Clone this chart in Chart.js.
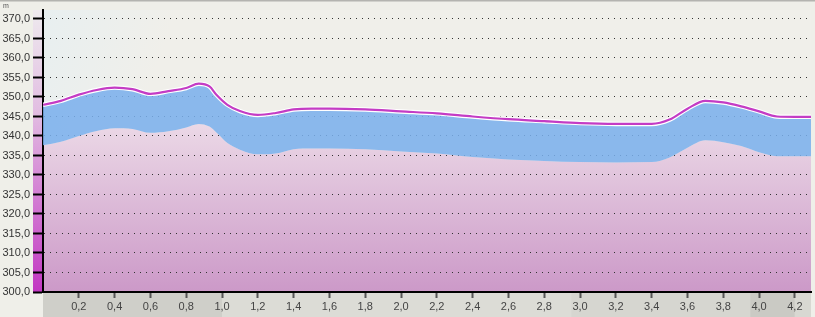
<!DOCTYPE html>
<html>
<head>
<meta charset="utf-8">
<script src="https://cdn.jsdelivr.net/npm/chart.js@4.4.1/dist/chart.umd.min.js"></script>
<style>
  html, body { margin: 0; padding: 0; background: #efefe9; }
  #wrap { width: 815px; height: 317px; position: relative; }
</style>
</head>
<body>
<div id="wrap"><canvas id="profile"></canvas></div>
<script>
// Distance along the route (km)
const distances = [0, 0.1, 0.2, 0.3, 0.4, 0.5, 0.6, 0.7, 0.8, 0.87, 0.93, 0.97, 1.03, 1.1, 1.2, 1.3, 1.4, 1.5, 1.6, 1.8, 2.0,
    2.2, 2.4, 2.6, 2.8, 3.0, 3.2, 3.4, 3.5, 3.6, 3.7, 3.8, 3.9, 4.0, 4.1, 4.2, 4.29];
// Upper surface (m)
const upperLevel = [348.0, 349.0, 350.6, 351.8, 352.4, 352.0, 350.8, 351.5, 352.3, 353.4, 352.7, 350.5, 348.0, 346.4, 345.4, 345.9, 346.8, 347.0, 347.0, 346.8, 346.3,
    345.8, 345.0, 344.3, 343.8, 343.3, 343.1, 343.1, 344.2, 347.0, 349.0, 348.6, 347.6, 346.3, 345.0, 344.9, 344.9];
// Lower surface (m)
const lowerLevel = [337.6, 338.5, 340.0, 341.3, 342.0, 341.8, 340.8, 341.2, 342.2, 343.1, 342.4, 340.8, 338.2, 336.5, 335.3, 335.5, 336.6, 336.8, 336.8, 336.6, 336.0,
    335.5, 334.6, 334.0, 333.6, 333.3, 333.2, 333.3, 334.5, 337.0, 338.9, 338.4, 337.4, 335.8, 334.8, 334.8, 334.8];

const Y_MIN = 300;
const Y_MAX = 372.3;
const X_MAX = 4.29;

const toPoints = arr => arr.map((v, i) => ({ x: distances[i], y: v }));
const fmt = v => v.toFixed(1).replace('.', ',');

// Backgrounds, and the ground area under the lower line (below the grid dots)
const backdrop = {
    id: 'backdrop',
    beforeDraw(chart) {
        const { ctx, chartArea: a } = chart;
        ctx.save();
        ctx.fillStyle = '#efefe9';
        ctx.fillRect(0, 0, chart.width, chart.height);
        ctx.fillStyle = '#b4b4b0';
        ctx.fillRect(0, 0, chart.width, 1.5);

        const bg = ctx.createLinearGradient(a.left, a.top, a.left + 120, a.top + 40);
        bg.addColorStop(0, '#e8eff0');
        bg.addColorStop(1, '#f0efea');
        ctx.fillStyle = bg;
        ctx.fillRect(a.left, a.top, a.right - a.left, a.bottom - a.top);

        // ground fill under the lower line
        const line = chart.getDatasetMeta(0).dataset;
        if (line && line.points && line.points.length) {
            line.updateControlPoints(a);
            ctx.beginPath();
            line.path(ctx);
            ctx.lineTo(a.right, a.bottom);
            ctx.lineTo(a.left, a.bottom);
            ctx.closePath();
            const g = ctx.createLinearGradient(0, chart.scales.y.getPixelForValue(343), 0, a.bottom);
            g.addColorStop(0, '#ebd8e6');
            g.addColorStop(1, '#cc99c8');
            ctx.fillStyle = g;
            ctx.fill();
        }

        // colour strip behind the y axis
        const strip = ctx.createLinearGradient(0, a.top, 0, a.bottom);
        strip.addColorStop(0, '#eeeaee');
        strip.addColorStop(0.35, '#e2bfe2');
        strip.addColorStop(1, '#c238c2');
        ctx.fillStyle = strip;
        ctx.fillRect(a.left - 10, a.top, 10, a.bottom - a.top);

        // x axis band
        const x = chart.scales.x;
        const bands = [[0, 1.0, '#cfcfc9'], [1.0, 2.95, '#dcdcd6'], [2.95, 3.95, '#d6d6d0'], [3.95, 4.2, '#cacac4'], [4.2, X_MAX, '#d8d8d2']];
        bands.forEach(([s, e, c]) => {
            ctx.fillStyle = c;
            ctx.fillRect(x.getPixelForValue(s), a.bottom, x.getPixelForValue(e) - x.getPixelForValue(s), chart.height - a.bottom);
        });

        ctx.fillStyle = '#555';
        ctx.font = '7px "Liberation Sans", Arial, sans-serif';
        ctx.fillText('m', 3, 8);
        ctx.restore();
    }
};

const ctx = document.getElementById('profile').getContext('2d');

const lineOpts = { pointRadius: 0, cubicInterpolationMode: 'monotone' };

new Chart(ctx, {
    type: 'line',
    data: {
        datasets: [{
            ...lineOpts,
            data: toPoints(lowerLevel),
            borderWidth: 0,
            borderColor: 'rgba(0,0,0,0)',
            order: 3,
            fill: false
        }, {
            ...lineOpts,
            data: toPoints(upperLevel),
            borderWidth: 0,
            order: 2,
            fill: '-1',
            backgroundColor: 'rgba(121,175,236,0.86)'
        }, {
            ...lineOpts,
            data: toPoints(upperLevel),
            borderColor: '#ffffff',
            borderWidth: 4.5,
            order: 1,
            fill: false
        }, {
            ...lineOpts,
            data: toPoints(upperLevel),
            borderColor: '#c43cc4',
            borderWidth: 2.2,
            order: 0,
            fill: false
        }]
    },
    options: {
        responsive: true,
        maintainAspectRatio: false,
        animation: false,
        events: [],
        layout: { padding: { top: 10, right: 4, left: 0, bottom: 0 } },
        plugins: {
            legend: { display: false },
            tooltip: { enabled: false }
        },
        scales: {
            x: {
                type: 'linear',
                min: 0,
                max: X_MAX,
                afterBuildTicks: s => {
                    s.ticks = [];
                    for (let v = 0.2; v <= 4.2001; v += 0.2) s.ticks.push({ value: Math.round(v * 10) / 10 });
                },
                afterFit: s => { s.height = 25; },
                ticks: {
                    callback: v => fmt(v),
                    color: '#444',
                    font: { family: '"Liberation Sans", Arial, sans-serif', size: 11 },
                    padding: 2,
                    maxRotation: 0,
                    autoSkip: false
                },
                grid: {
                    drawOnChartArea: false,
                    tickLength: 6,
                    tickColor: '#555',
                    tickWidth: 2
                },
                border: { display: true, color: '#000', width: 2 }
            },
            y: {
                min: Y_MIN,
                max: Y_MAX,
                afterBuildTicks: s => {
                    s.ticks = [];
                    for (let v = Y_MIN; v <= 370; v += 5) s.ticks.push({ value: v });
                },
                afterFit: s => { s.width = 43; },
                ticks: {
                    callback: v => fmt(v),
                    color: '#333',
                    font: { family: '"Liberation Sans", Arial, sans-serif', size: 11 },
                    padding: 3,
                    autoSkip: false
                },
                grid: {
                    color: '#333',
                    lineWidth: 1,
                    tickLength: 10,
                    tickColor: '#000',
                    tickWidth: 2,
                    tickBorderDash: []
                },
                border: { display: true, color: '#000', width: 2, dash: [1, 5] }
            }
        }
    },
    plugins: [backdrop]
});
</script>
</body>
</html>
